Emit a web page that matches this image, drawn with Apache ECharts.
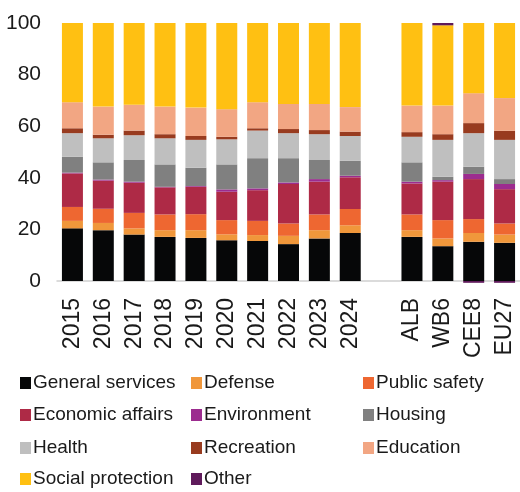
<!DOCTYPE html>
<html>
<head>
<meta charset="utf-8">
<script src="https://cdn.jsdelivr.net/npm/echarts@6/dist/echarts.min.js"></script>
<style>
  html, body { margin: 0; padding: 0; background: #fff; }
  #main { width: 520px; height: 492px; }
</style>
</head>
<body>
<div id="main"></div>
<script>
// categories (empty slot separates years from country groups)
const categories = ['2015', '2016', '2017', '2018', '2019', '2020', '2021', '2022', '2023', '2024', '', 'ALB', 'WB6', 'CEE8', 'EU27'];

// shares of total expenditure, %
const generalServices  = [20.4, 19.7, 18.0, 17.1, 16.7, 15.8, 15.5, 14.3, 16.5, 18.6, null, 17.1, 13.5, 15.2, 14.8];
const defense          = [2.9, 2.8, 2.4, 2.6, 3.0, 2.3, 2.3, 3.2, 3.2, 3.0, null, 2.6, 3.0, 3.4, 3.2];
const publicSafety     = [5.4, 5.5, 6.0, 6.1, 6.2, 5.5, 5.5, 4.8, 6.1, 6.3, null, 6.1, 7.1, 5.4, 4.3];
const economicAffairs  = [13.0, 10.9, 11.7, 10.5, 10.6, 11.0, 11.9, 15.3, 12.7, 12.3, null, 12.0, 14.9, 15.5, 13.3];
const environment      = [0.3, 0.4, 0.4, 0.2, 0.3, 0.9, 0.7, 0.6, 1.0, 0.6, null, 0.7, 0.6, 2.0, 2.0];
const housing          = [6.2, 6.7, 8.4, 8.7, 7.1, 9.7, 11.7, 9.4, 7.4, 5.8, null, 7.5, 1.3, 2.8, 1.9];
const health           = [9.1, 9.3, 9.6, 10.1, 10.8, 9.7, 10.7, 9.7, 10.0, 9.6, null, 9.9, 14.3, 13.0, 15.2];
const recreation       = [1.9, 1.4, 1.8, 1.6, 1.5, 1.0, 0.9, 1.6, 1.6, 1.7, null, 1.8, 2.2, 3.9, 3.5];
const education        = [10.1, 10.9, 10.0, 10.7, 11.0, 10.7, 10.1, 9.7, 10.1, 9.5, null, 10.3, 11.1, 11.6, 12.7];
const socialProtection = [30.7, 32.4, 31.7, 32.4, 32.8, 33.4, 30.7, 31.4, 31.4, 32.6, null, 32.0, 31.1, 27.2, 29.1];
const other            = [0, 0, 0, 0, 0, 0, 0, 0, 0, 0, null, 0, 0.9, -0.7, -0.7];

// legend grid: 3 columns x 4 rows
const legendCols = [
  ['General services', 'Economic affairs', 'Health', 'Social protection'],
  ['Defense', 'Environment', 'Recreation', 'Other'],
  ['Public safety', 'Housing', 'Education']
];

const font = "'Liberation Sans', Arial, sans-serif";

let chart = echarts.init(document.getElementById('main'));

function bar(name, data, color) {
  return {
    name: name,
    type: 'bar',
    stack: 'total',
    barWidth: 21,
    clip: false,
    data: data,
    itemStyle: { color: color }
  };
}

// one legend per entry so the columns line up like the original
let legends = [];
const colLeft = [20, 191, 363];
const rowTop = [373, 405, 438, 469];
legendCols.forEach((names, c) => {
  names.forEach((name, r) => {
    legends.push({
      left: colLeft[c],
      top: rowTop[r],
      padding: 0,
      itemWidth: 11,
      itemHeight: 12,
      icon: 'rect',
      selectedMode: false,
      data: [name],
      textStyle: { fontFamily: font, fontSize: 19, color: '#1a1a1a', lineHeight: 20, padding: [0, 0, 0, -3] }
    });
  });
});

let option = {
  animation: false,
  grid: { left: 57, top: 23, width: 465, height: 258 },
  legend: legends,
  xAxis: {
    type: 'category',
    data: categories,
    axisLine: { lineStyle: { color: '#d0d0d0', width: 1.5 } },
    axisTick: { show: false },
    axisLabel: {
      rotate: 90,
      interval: 0,
      margin: 17,
      fontFamily: font,
      fontSize: 23,
      color: '#1a1a1a'
    }
  },
  yAxis: {
    type: 'value',
    min: 0,
    max: 100,
    interval: 20,
    splitLine: { show: false },
    axisLine: { show: false },
    axisTick: { show: false },
    axisLabel: { fontFamily: font, fontSize: 21, color: '#1a1a1a', margin: 16 }
  },
  series: [
    bar('General services', generalServices, '#060708'),
    bar('Defense', defense, '#F0973B'),
    bar('Public safety', publicSafety, '#EE6731'),
    bar('Economic affairs', economicAffairs, '#AE2A46'),
    bar('Environment', environment, '#9C2C8F'),
    bar('Housing', housing, '#808080'),
    bar('Health', health, '#BFBFBF'),
    bar('Recreation', recreation, '#983B1F'),
    bar('Education', education, '#F2A683'),
    bar('Social protection', socialProtection, '#FFC012'),
    bar('Other', other, '#5F1A5B')
  ]
};

chart.setOption(option);
</script>
</body>
</html>
